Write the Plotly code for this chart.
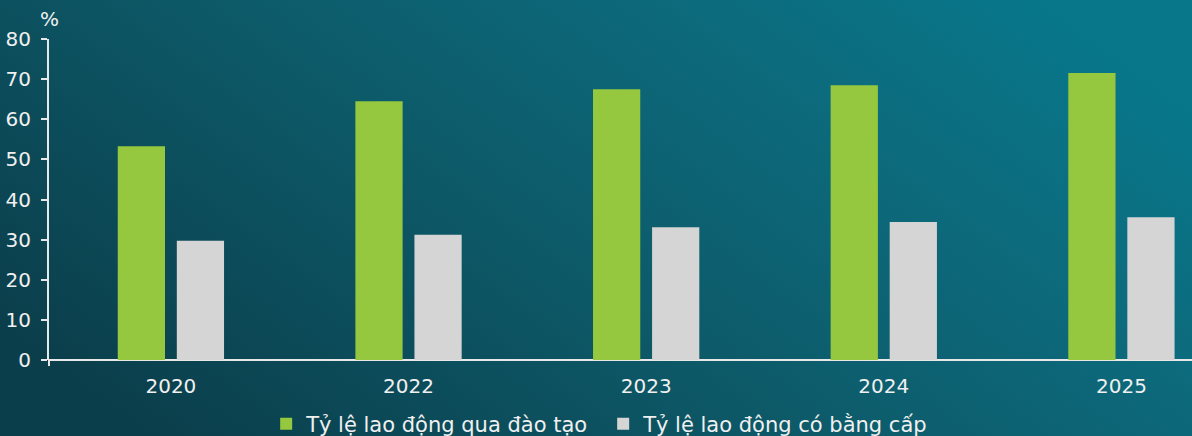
import base64
import plotly.graph_objects as go

years = ["2020", "2022", "2023", "2024", "2025"]
trained = [53.3, 64.5, 67.5, 68.5, 71.5]
degree = [29.7, 31.2, 33.1, 34.4, 35.6]
series_names = ["Tỷ lệ lao động qua đào tạo", "Tỷ lệ lao động có bằng cấp"]
y_ticks = [0, 10, 20, 30, 40, 50, 60, 70, 80]

W, H = 1192, 436
ML, MR, MT, MB = 49, 0, 39, 76
PW, PH = W - ML - MR, H - MT - MB

FONT = "DejaVu Sans"
TXT = "#f0f0f0"
AX = "#e8e8e8"

svg = f'''<svg xmlns="http://www.w3.org/2000/svg" width="{W}" height="{H}" viewBox="0 0 {W} {H}" preserveAspectRatio="none">
<defs><linearGradient id="g" x1="0" y1="0.75" x2="1" y2="0.25">
<stop offset="0" stop-color="#0b3e4b"/>
<stop offset="0.45" stop-color="#0d5a69"/>
<stop offset="0.8" stop-color="#0c6d7f"/>
<stop offset="1" stop-color="#08778a"/>
</linearGradient></defs>
<rect width="{W}" height="{H}" fill="url(#g)"/></svg>'''
src = "data:image/svg+xml;base64," + base64.b64encode(svg.encode()).decode()

fig = go.Figure()
fig.add_trace(go.Bar(x=years, y=trained, name=series_names[0], marker=dict(color="#95c83f", line=dict(width=0))))
fig.add_trace(go.Bar(x=years, y=degree, name=series_names[1], marker=dict(color="#d5d5d5", line=dict(width=0))))

fig.update_layout(
    width=W, height=H,
    margin=dict(l=ML, r=MR, t=MT, b=MB, pad=0, autoexpand=False),
    paper_bgcolor="#0c5766",
    plot_bgcolor="rgba(0,0,0,0)",
    barmode="group",
    bargap=0.503,
    bargroupgap=0.2,
    font=dict(family=FONT, size=20, color=TXT),
    showlegend=True,
    legend=dict(orientation="h", x=0.19, xanchor="left", y=(360 - 424) / PH, yanchor="middle",
                entrywidth=292, entrywidthmode="pixels",
                font=dict(family=FONT, size=21, color=TXT), bgcolor="rgba(0,0,0,0)", traceorder="normal"),
    images=[dict(source=src, xref="paper", yref="paper", x=-ML / PW, y=1 + MT / PH,
                 sizex=W / PW, sizey=H / PH, sizing="stretch", layer="below", xanchor="left", yanchor="top")],
    xaxis=dict(type="category", range=[-0.513, 4.297], showgrid=False, zeroline=False,
               showline=False, ticks="", tickfont=dict(family=FONT, size=20, color=TXT),
               ticklabelstandoff=12, automargin=False),
    yaxis=dict(range=[0, 80], tickvals=y_ticks, showgrid=False, zeroline=True, zerolinecolor=AX,
               zerolinewidth=2, showline=True, linecolor=AX, linewidth=2, ticks="outside", ticklen=6,
               tickcolor=AX, tickwidth=2, tickfont=dict(family=FONT, size=20, color=TXT),
               ticklabelstandoff=6, automargin=False),
    annotations=[dict(text="%", xref="paper", yref="paper", x=-11 / PW, y=1 + 20 / PH, xanchor="left",
                      yanchor="middle", showarrow=False, font=dict(family=FONT, size=20, color=TXT))],
    shapes=[dict(type="line", xref="paper", yref="paper", x0=0, x1=0, y0=0, y1=-6 / PH,
                 line=dict(color=AX, width=2))],
)

fig.write_html("out.html", config={"displayModeBar": False},
               post_script="document.body.style.margin='0';document.body.style.padding='0';")
